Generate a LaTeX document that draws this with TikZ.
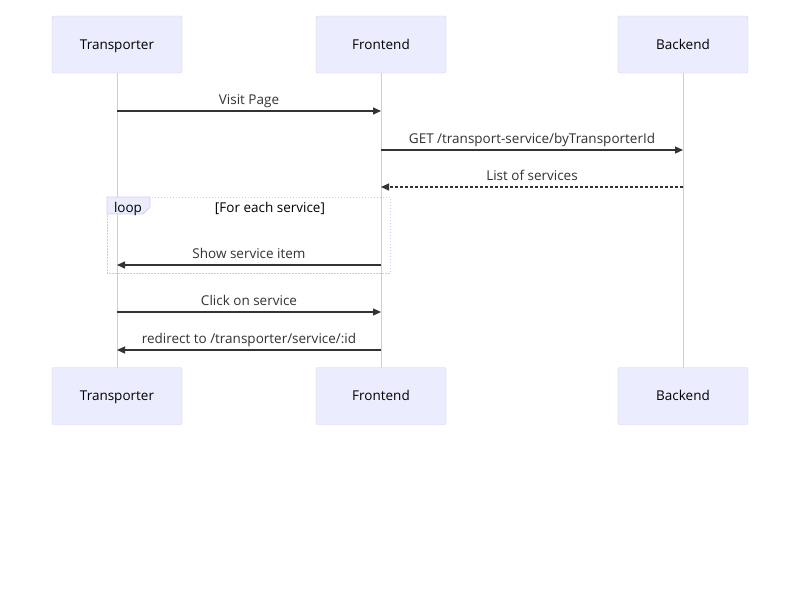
\documentclass[tikz,border=0pt]{standalone}
\usepackage{fontspec}
\setmainfont{Open Sans}
\usetikzlibrary{arrows.meta}
\definecolor{actfill}{HTML}{ECECFF}
\definecolor{actline}{HTML}{D4CFF0}
\definecolor{lifeline}{HTML}{CFC6F4}
\definecolor{msgcol}{HTML}{333333}
\tikzset{
  actor/.style={draw=actline, fill=actfill, rounded corners=2pt, minimum width=130pt, minimum height=57pt, text height=9.5pt, text depth=0pt, font=\fontsize{13.5}{16}\selectfont, text=black},
  msg/.style={draw=msgcol, line width=1.2pt, -{Triangle[length=8pt,width=7pt]}},
  reply/.style={msg, dash pattern=on 3pt off 2pt},
  lbl/.style={font=\fontsize{13.5}{16}\selectfont, text=msgcol, inner sep=0pt}
}
\begin{document}
\begin{tikzpicture}[x=1pt, y=-1pt]
            \useasboundingbox [fill=white] (0,0) rectangle (800,600);
            % lifelines
            \draw [lifeline, line width=1pt] (117,73) -- (117,368);
            \draw [lifeline, line width=1pt] (381,73) -- (381,368);
            \draw [lifeline, line width=1pt] (683,73) -- (683,368);
            % actors
            \node [actor] (ttop) at (117,44.5) {Transporter};
            \node [actor] (ftop) at (381,44.5) {Frontend};
            \node [actor] (btop) at (683,44.5) {Backend};
            \node [actor] (tbot) at (117,396) {Transporter};
            \node [actor] (fbot) at (381,396) {Frontend};
            \node [actor] (bbot) at (683,396) {Backend};
            % loop frame
            \draw [lifeline, line width=1pt, dash pattern=on 1.5pt off 1.5pt] (107,197) rectangle (390,273);
            \draw [actline, fill=actfill, line width=0.8pt] (107,197) -- (150,197) -- (150,207) -- (143,214) -- (107,214) -- cycle;
            \node [lbl, text=black, anchor=base] (looptag) at (128,212) {loop};
            \node [lbl, text=black, anchor=base] (looptitle) at (270,212) {[For each service]};
            % message rows
            \coordinate (r1) at (0,111);
            \coordinate (r2) at (0,150);
            \coordinate (r3) at (0,187);
            \coordinate (r4) at (0,265);
            \coordinate (r5) at (0,312);
            \coordinate (r6) at (0,350);
            \draw [msg] (ttop |- r1) -- (ftop |- r1) node [lbl, midway, anchor=base, yshift=7pt] {Visit Page};
            \draw [msg] (ftop |- r2) -- (btop |- r2) node [lbl, midway, anchor=base, yshift=7pt] {GET /transport-service/byTransporterId};
            \draw [reply] (btop |- r3) -- (ftop |- r3) node [lbl, midway, anchor=base, yshift=7pt] {List of services};
            \draw [msg] (ftop |- r4) -- (ttop |- r4) node [lbl, midway, anchor=base, yshift=7pt] {Show service item};
            \draw [msg] (ttop |- r5) -- (ftop |- r5) node [lbl, midway, anchor=base, yshift=7pt] {Click on service};
            \draw [msg] (ftop |- r6) -- (ttop |- r6) node [lbl, midway, anchor=base, yshift=7pt] {redirect to /transporter/service/:id};
        \end{tikzpicture}
\end{document}
